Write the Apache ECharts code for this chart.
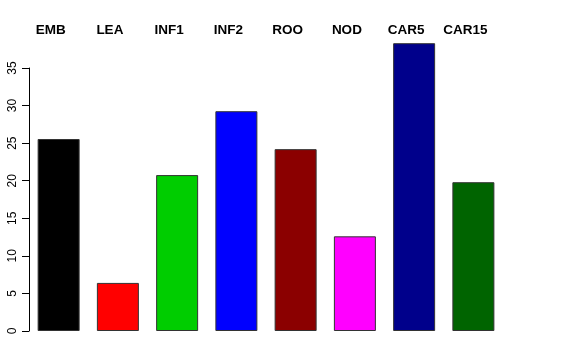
<!DOCTYPE html>
<html><head><meta charset="utf-8">
<script src="https://cdn.jsdelivr.net/npm/echarts@6/dist/echarts.min.js"></script>
<style>html,body{margin:0;padding:0;background:#fff}#c{width:576px;height:360px}</style>
</head><body><div id="c"></div>
<script>
var categories = ["EMB","LEA","INF1","INF2","ROO","NOD","CAR5","CAR15"];
var values = [25.55, 6.4, 20.75, 29.25, 24.2, 12.6, 38.3, 19.8];
var colors = ["#000000","#FF0000","#00CD00","#0000FF","#8B0000","#FF00FF","#00008B","#006400"];
var yTicks = [0,5,10,15,20,25,30,35];

var chart = echarts.init(document.getElementById('c'), null, {renderer:'canvas'});
chart.setOption({
  animation:false,
  backgroundColor:'#ffffff',
  grid:{left:29, right:73, top:68, bottom:29, containLabel:false},
  xAxis:{type:'category', data:categories, position:'top',
    axisLine:{show:false}, axisTick:{show:false},
    axisLabel:{fontFamily:'Liberation Sans, Arial, sans-serif', fontWeight:'bold', fontSize:13.5, color:'#000', margin:31, padding:[0,16,0,0]}},
  yAxis:{type:'value', min:yTicks[0], max:yTicks[yTicks.length-1], interval:5,
    splitLine:{show:false},
    axisLine:{show:true, lineStyle:{color:'#000', width:1}},
    axisTick:{show:true, length:7, lineStyle:{color:'#000'}},
    axisLabel:{rotate:90, fontFamily:'Liberation Sans, Arial, sans-serif', fontSize:12, color:'#000', margin:10}},
  series:[{type:'bar', clip:false, barWidth:42,
    data: values.map(function(v,i){return {value:v, itemStyle:{color:colors[i]}};}),
    itemStyle:{borderColor:'#333', borderWidth:1}}]
});
</script></body></html>
